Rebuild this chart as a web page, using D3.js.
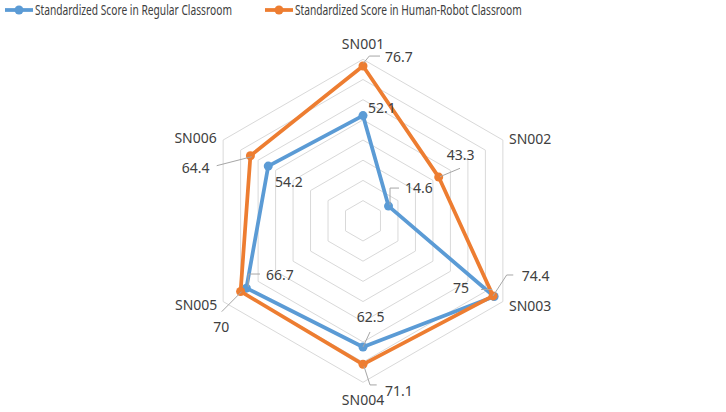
<!DOCTYPE html>
<html>
<head>
<meta charset="utf-8">
<script src="https://cdn.jsdelivr.net/npm/d3@7"></script>
<style>
  body { margin: 0; background: #fff; }
  svg text { font-family: "Noto Sans", "DejaVu Sans", sans-serif; fill: #404040; }
</style>
</head>
<body>
<div id="chart"></div>
<script>
// data
var categories = ["SN001", "SN002", "SN003", "SN004", "SN005", "SN006"]
var regular = [52.1, 14.6, 75, 62.5, 66.7, 54.2]
var robot = [76.7, 43.3, 74.4, 71.1, 70, 64.4]
var seriesNames = ["Standardized Score in Regular Classroom", "Standardized Score in Human-Robot Classroom"]
var gridTicks = [10, 20, 30, 40, 50, 60, 70, 80]

// layout
var W = 726, H = 412
var cx = 363, cy = 220.8
var colors = ["#5b9bd5", "#ed7d31"]

// label placement relative to the point (text x/y, anchor, leader polyline)
var regLabels = [
  {dx: 5, dy: -2.6, a: "start", lead: null},
  {dx: 16.5, dy: -13.4, a: "start", lead: [[1.5, -1], [1.5, -18], [10.5, -18]]},
  {dx: -25, dy: -3.5, a: "end", lead: [[-2, -7], [-13, -7]]},
  {dx: -6.3, dy: -25.3, a: "start", lead: [[0, 0], [7, -15]]},
  {dx: 19.6, dy: -8.1, a: "start", lead: [[1.9, -1.4], [1.9, -14.1], [13.6, -14.1]]},
  {dx: 6.8, dy: 20.6, a: "start", lead: null}
]
var robLabels = [
  {dx: 22, dy: -4.2, a: "start", lead: [[0.3, -2.6], [6.3, -9.9], [17, -9.9]]},
  {dx: 8, dy: -17.1, a: "start", lead: [[1.3, -0.4], [21.3, -8.8]]},
  {dx: 28.6, dy: -15.2, a: "start", lead: [[0, 0], [13.6, -20.9], [20.2, -20.9]]},
  {dx: 22, dy: 31.6, a: "start", lead: [[1, 2], [7, 20.6], [13.7, 20.6]]},
  {dx: -27.3, dy: 40.2, a: "start", lead: [[1, 0.2], [-18.9, 20.2]]},
  {dx: -68.7, dy: 16.9, a: "start", lead: [[1.3, 0.9], [-33.7, 9.9]]}
]
var catLabels = [
  {dx: 0, dy: -10.3, a: "middle"},
  {dx: 6.1, dy: 4, a: "start"},
  {dx: 6.1, dy: 9.4, a: "start"},
  {dx: 0, dy: 22.7, a: "middle"},
  {dx: -5.8, dy: 8.4, a: "end"},
  {dx: -6.4, dy: 3, a: "end"}
]

var r = d3.scaleLinear().domain([0, 80]).range([0, 161.5])
var ang = d3.scaleLinear().domain([0, categories.length]).range([0, 2 * Math.PI])

function pt(i, v) {
  return [cx + r(v) * Math.sin(ang(i)), cy - r(v) * Math.cos(ang(i))]
}

var svg = d3.select('#chart').append('svg')
  .attr('width', W)
  .attr('height', H)

// grid hexagons
var hex = d3.line()
gridTicks.forEach(function (t) {
  var pts = categories.map(function (c, i) { return pt(i, t) })
  svg.append('path')
    .attr('d', hex(pts) + 'Z')
    .attr('fill', 'none')
    .attr('stroke', '#d9d9d9')
    .attr('stroke-width', 1)
})

// category labels
categories.forEach(function (c, i) {
  var p = pt(i, 80)
  svg.append('text')
    .attr('x', p[0] + catLabels[i].dx)
    .attr('y', p[1] + catLabels[i].dy)
    .attr('text-anchor', catLabels[i].a)
    .attr('font-size', 14)
    .text(c)
})

function drawSeries(vals, color) {
  var pts = vals.map(function (v, i) { return pt(i, v) })
  svg.append('path')
    .attr('d', hex(pts) + 'Z')
    .attr('fill', 'none')
    .attr('stroke', color)
    .attr('stroke-width', 3.75)
    .attr('stroke-linejoin', 'round')
  svg.selectAll(null).data(pts).enter().append('circle')
    .attr('cx', function (d) { return d[0] })
    .attr('cy', function (d) { return d[1] })
    .attr('r', 4.5)
    .attr('fill', color)
}

function drawLabels(vals, conf) {
  vals.forEach(function (v, i) {
    var p = pt(i, v)
    var c = conf[i]
    if (c.lead) {
      svg.append('path')
        .attr('d', d3.line()(c.lead.map(function (q) { return [p[0] + q[0], p[1] + q[1]] })))
        .attr('fill', 'none')
        .attr('stroke', '#a6a6a6')
        .attr('stroke-width', 1)
    }
    svg.append('text')
      .attr('x', p[0] + c.dx)
      .attr('y', p[1] + c.dy)
      .attr('text-anchor', c.a)
      .attr('font-size', 14)
      .text(v)
  })
}

drawSeries(regular, colors[0])
drawSeries(robot, colors[1])
drawLabels(regular, regLabels)
drawLabels(robot, robLabels)

// legend (text squeezed horizontally to the narrow width of the original font)
var legX = [5, 265], legW = [197, 227]
seriesNames.forEach(function (n, i) {
  svg.append('line')
    .attr('x1', legX[i]).attr('x2', legX[i] + 28)
    .attr('y1', 10).attr('y2', 10)
    .attr('stroke', colors[i])
    .attr('stroke-width', 3.75)
  svg.append('circle')
    .attr('cx', legX[i] + 14).attr('cy', 10).attr('r', 4.5)
    .attr('fill', colors[i])
  var t = svg.append('text')
    .attr('font-size', 15)
    .text(n)
  var sx = legW[i] / t.node().getComputedTextLength()
  t.attr('transform', 'translate(' + (legX[i] + 30) + ',15) scale(' + sx + ',1)')
})
</script>
</body>
</html>
